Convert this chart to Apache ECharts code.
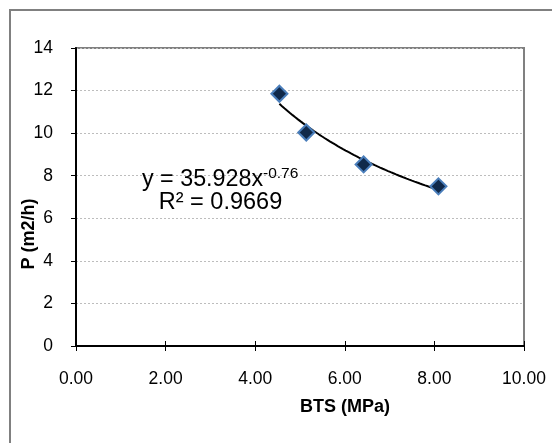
<!DOCTYPE html>
<html>
<head>
<meta charset="utf-8">
<script src="https://cdn.jsdelivr.net/npm/echarts@6/dist/echarts.min.js"></script>
<style>
html,body{margin:0;padding:0;background:#fff;}
#c{width:552px;height:443px;}
</style>
</head>
<body>
<div id="c"></div>
<script>
// Data
var btsValues = [4.54, 5.14, 6.42, 8.09];
var pValues = [11.85, 10.03, 8.53, 7.50];
var xTickLabels = ['0.00', '2.00', '4.00', '6.00', '8.00', '10.00'];
var yTickLabels = ['0', '2', '4', '6', '8', '10', '12', '14'];
// Trendline as stated on the chart: y = 35.928 x^-0.76
var trendA = 35.928;
var trendB = -0.76;
var xTitle = 'BTS (MPa)';
var yTitle = 'P (m2/h)';
var eqText = 'y = 35.928x';
var eqSup = '-0.76';
var r2Text = 'R\u00b2 = 0.9669';

var points = btsValues.map(function (x, i) { return [x, pValues[i]]; });
var trend = [];
var x0 = Math.min.apply(null, btsValues), x1 = Math.max.apply(null, btsValues);
for (var i = 0; i <= 60; i++) {
  var x = x0 + (x1 - x0) * i / 60;
  trend.push([x, trendA * Math.pow(x, trendB)]);
}

var FONT = '"Liberation Sans", Arial, sans-serif';
var chart = echarts.init(document.getElementById('c'), null, {renderer: 'canvas'});
chart.setOption({
  animation: false,
  backgroundColor: '#fff',
  grid: {left: 76, top: 48, width: 448, height: 298, show: true,
         borderColor: '#808080', borderWidth: 2, backgroundColor: 'transparent'},
  xAxis: [{
    type: 'value', min: 0, max: 10, interval: 2,
    axisLine: {show: true, onZero: false, lineStyle: {color: '#000', width: 2}},
    axisTick: {show: true, length: 5, lineStyle: {color: '#000', width: 1}},
    axisLabel: {margin: 24, fontSize: 17.5, color: '#000', fontFamily: FONT,
      formatter: function (v) { return xTickLabels[Math.round(v / 2)]; }},
    splitLine: {show: false}
  }, {
    type: 'value', min: 0, max: 10, interval: 2, position: 'bottom', offset: 0,
    axisLine: {show: false},
    axisTick: {show: true, inside: true, length: 5, lineStyle: {color: '#000', width: 1}},
    axisLabel: {show: false},
    splitLine: {show: false}
  }],
  yAxis: {
    type: 'value', min: 0, max: 14, interval: 2,
    axisLine: {show: true, onZero: false, lineStyle: {color: '#000', width: 2}},
    axisTick: {show: true, length: 5, lineStyle: {color: '#000', width: 1}},
    axisLabel: {margin: 23, fontSize: 17.5, color: '#000', fontFamily: FONT,
      formatter: function (v) { return yTickLabels[Math.round(v / 2)]; }},
    splitLine: {show: true, lineStyle: {color: '#bdbdbd', type: [2, 2], width: 1}}
  },
  series: [{
    type: 'line', data: trend, showSymbol: false, symbol: 'none',
    lineStyle: {color: '#000', width: 2}, z: 2, silent: true
  }, {
    type: 'scatter', data: points, symbol: 'diamond', symbolSize: 16,
    itemStyle: {color: '#10294a', borderColor: '#4a7ebb', borderWidth: 2, opacity: 1}, z: 3
  }],
  graphic: [
    {type: 'rect', shape: {x: 10, y: 10, width: 700, height: 600}, silent: true, z: -10,
     style: {fill: 'none', stroke: '#808080', lineWidth: 2}},
    {type: 'text', x: 345, y: 407, z: 10,
     style: {text: xTitle, font: 'bold 18px ' + FONT, fill: '#000', textAlign: 'center', textVerticalAlign: 'middle'}},
    {type: 'text', x: 29, y: 234, rotation: Math.PI / 2, z: 10,
     style: {text: yTitle, font: 'bold 18px ' + FONT, fill: '#000', textAlign: 'center', textVerticalAlign: 'middle'}},
    {type: 'text', x: 142, y: 180, z: 10,
     style: {text: eqText, font: '23.3px ' + FONT, fill: '#000', textAlign: 'left', textVerticalAlign: 'middle'}},
    {type: 'text', x: 263, y: 174, z: 10,
     style: {text: eqSup, font: '15.5px ' + FONT, fill: '#000', textAlign: 'left', textVerticalAlign: 'middle'}},
    {type: 'text', x: 220.5, y: 203, z: 10,
     style: {text: r2Text, font: '23.5px ' + FONT, fill: '#000', textAlign: 'center', textVerticalAlign: 'middle'}}
  ]
});
</script>
</body>
</html>
